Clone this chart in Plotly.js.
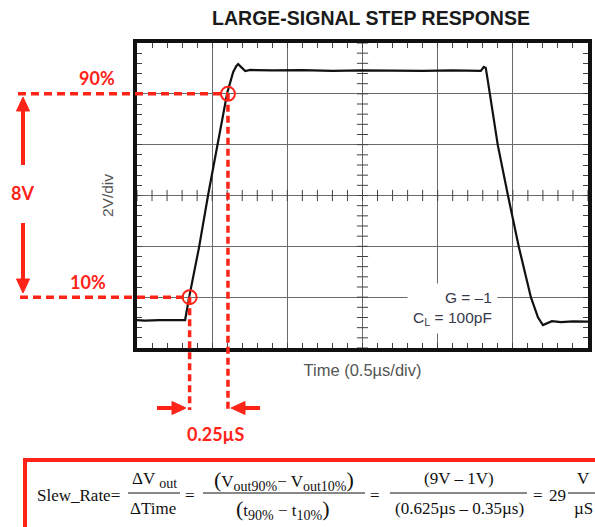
<!DOCTYPE html>
<html><head><meta charset="utf-8">
<script src="https://cdn.plot.ly/plotly-3.0.1.min.js"></script>
<style>html,body{margin:0;padding:0;background:#fff}#chart{width:595px;height:527px}</style>
</head><body><div id="chart"></div>
<script>
// ---- data ----
const timeUs = [0, 0.05, 0.15, 0.25, 0.32, 0.347, 0.413, 0.473, 0.533, 0.600, 0.640, 0.660, 0.673, 0.693, 0.720, 0.753,
  0.9, 1.1, 1.3, 1.5, 1.7, 1.9, 2.1, 2.25, 2.287, 2.307, 2.32, 2.333, 2.347, 2.40, 2.467, 2.54, 2.62, 2.667, 2.70, 2.727, 2.76, 2.82, 2.9, 3.0];
const voutV = [0.1, 0.08, 0.1, 0.09, 0.1, 1.0, 2.97, 5.02, 6.98, 9.03, 9.86, 10.09, 10.17, 10.06, 9.90, 9.94,
  9.92, 9.93, 9.90, 9.92, 9.91, 9.90, 9.92, 9.90, 9.90, 10.06, 10.02, 9.54, 9.03, 6.98, 5.02, 2.97, 1.0, 0.21, -0.10, -0.02, 0.055, 0.016, 0.05, 0.04];
const levelLabels = ['10%', '90%'];
const levelVolts = [1, 9];
const levelTimes = [0.35, 0.605];
const swingLabel = '8V';
const riseLabel = '0.25µS';
const xRange = [0, 3];      // 0.5 µs/div, 6 div
const yRange = [-1, 11];    // 2 V/div, 6 div
const xDiv = 0.5, yDiv = 2;

// ---- layout helpers (pixel -> paper) ----
const L = 137, R = 588, T = 43, B = 348;
const px = x => (x - L) / (R - L);
const py = y => (B - y) / (B - T);
const dx = t => (t - xRange[0]) / (xRange[1] - xRange[0]);
const dy = v => (v - yRange[0]) / (yRange[1] - yRange[0]);

const RED = '#ff2318';
const redFont = {family: 'Lato, "Liberation Sans", sans-serif', size: 18, color: RED, weight: 'bold'};
const serif = {family: '"Liberation Serif", "Times New Roman", serif', size: 17, color: '#111'};
const SUB = s => '<sub><span style="font-size:14px">' + s + '</span></sub>';
const BIG = s => '<span style="font-size:22px">' + s + '</span>';

// center-line minor ticks
const cx = [], cy = [], ex = [], ey = [];
for (let i = 0; i <= 30; i++) { const t = xRange[0] + i * xDiv / 5; cx.push(t); cy.push((yRange[0] + yRange[1]) / 2); }
for (let i = 0; i <= 30; i++) { const v = yRange[0] + i * yDiv / 5; ey.push(v); ex.push((xRange[0] + xRange[1]) / 2); }

const traces = [
  {x: cx, y: cy, mode: 'markers', hoverinfo: 'skip', showlegend: false,
   marker: {symbol: 'line-ns', size: 8, line: {width: 1, color: '#444'}}},
  {x: ex, y: ey, mode: 'markers', hoverinfo: 'skip', showlegend: false,
   marker: {symbol: 'line-ew', size: 8, line: {width: 1, color: '#444'}}},
  {x: timeUs, y: voutV, mode: 'lines', name: 'Vout', showlegend: false,
   line: {color: '#111', width: 2.2}}
];

const shapes = [];
const annotations = [];

// 10% / 90% markers
levelVolts.forEach((v, i) => {
  const t = levelTimes[i];
  shapes.push({type: 'line', xref: 'paper', yref: 'y', x0: px(i === 0 ? 20 : 18), x1: dx(t), y0: v, y1: v,
    line: {color: RED, width: 3.5, dash: '8px,5px'}, layer: 'above'});
  shapes.push({type: 'line', xref: 'x', yref: 'paper', x0: t, x1: t, y0: dy(v), y1: py(410),
    line: {color: RED, width: 3.5, dash: '7px,4px'}, layer: 'above'});
  shapes.push({type: 'circle', xref: 'x', yref: 'y', xsizemode: 'pixel', ysizemode: 'pixel',
    xanchor: t, yanchor: v, x0: -7, x1: 7, y0: -7, y1: 7, line: {color: RED, width: 2}, layer: 'above'});
});
const redTxt = (x, y, text) => annotations.push({xref: 'paper', yref: 'paper', x: px(x), y: py(y), text: text,
  showarrow: false, font: redFont, xanchor: 'center', yanchor: 'middle'});
redTxt(97, 78, levelLabels[1]);
redTxt(88, 282, levelLabels[0]);
redTxt(22, 193, swingLabel);
redTxt(215, 434, riseLabel);

// arrows drawn as shaft + filled head (pixel geometry -> paper)
const arrow = (tx, ty, fx, fy) => {
  const len = Math.hypot(tx - fx, ty - fy), ux = (tx - fx) / len, uy = (ty - fy) / len;
  const hl = 14, hw = 6.5;
  const bx = tx - ux * hl, by = ty - uy * hl;
  shapes.push({type: 'line', xref: 'paper', yref: 'paper', x0: px(fx), y0: py(fy), x1: px(bx + ux), y1: py(by + uy),
    line: {color: RED, width: 4}, layer: 'above'});
  const p1 = [bx - uy * hw, by + ux * hw], p2 = [bx + uy * hw, by - ux * hw];
  shapes.push({type: 'path', xref: 'paper', yref: 'paper', layer: 'above', fillcolor: RED, line: {color: RED, width: 1},
    path: 'M' + px(tx) + ',' + py(ty) + ' L' + px(p1[0]) + ',' + py(p1[1]) + ' L' + px(p2[0]) + ',' + py(p2[1]) + ' Z'});
};
arrow(23, 97, 23, 165);
arrow(23, 293, 23, 223);
arrow(186, 408, 157, 408);
arrow(231, 408, 260, 408);

// G / CL label
annotations.push({xref: 'paper', yref: 'paper', x: px(498), y: py(308), xanchor: 'right', yanchor: 'middle', align: 'right',
  text: 'G = –1<br>C<sub>L</sub> = 100pF', showarrow: false, bgcolor: '#fff', borderpad: 5,
  font: {family: '"Liberation Sans", Arial, sans-serif', size: 15.5, color: '#3a3a4c'}});

// formula box
shapes.push({type: 'rect', xref: 'paper', yref: 'paper', x0: px(25), x1: px(610), y0: py(460), y1: py(545),
  line: {color: RED, width: 4}, layer: 'above'});
const fbar = (a, b, y) => shapes.push({type: 'line', xref: 'paper', yref: 'paper', x0: px(a), x1: px(b), y0: py(y), y1: py(y),
  line: {color: '#111', width: 1}, layer: 'above'});
fbar(128, 180, 493); fbar(203, 365, 493); fbar(390, 527, 493); fbar(568, 597, 493);
const ftxt = (x, y, text, anchor) => annotations.push({xref: 'paper', yref: 'paper', x: px(x), y: py(y), text: text,
  showarrow: false, font: serif, xanchor: anchor || 'center', yanchor: 'middle'});
ftxt(35, 495, 'Slew_Rate=', 'left');
ftxt(154, 480, 'ΔV ' + SUB('out'));
ftxt(153, 508, 'ΔTime');
ftxt(190, 495, '=');
ftxt(284, 480, BIG('(') + 'V' + SUB('out90%') + '− V' + SUB('out10%') + BIG(')'));
ftxt(283, 509, BIG('(') + 't' + SUB('90%') + ' − t' + SUB('10%') + BIG(')'));
ftxt(375, 495, '=');
ftxt(459, 478, '(9V – 1V)');
ftxt(459, 508, '(0.625µs – 0.35µs)');
ftxt(538, 495, '=');
ftxt(557, 495, '29');
ftxt(583, 478, 'V');
ftxt(583, 508, 'µS');

const layout = {
  width: 595, height: 527,
  margin: {l: L, r: 595 - R, t: T, b: 527 - B, pad: 0},
  paper_bgcolor: '#fff', plot_bgcolor: '#fff',
  showlegend: false,
  title: {text: '<b>LARGE-SIGNAL STEP RESPONSE</b>', xref: 'paper', x: px(371), xanchor: 'center',
    yref: 'container', y: 1 - 18 / 527, yanchor: 'middle',
    font: {family: '"Liberation Sans", Arial, sans-serif', size: 19.5, color: '#1a1a1a'}},
  xaxis: {range: xRange, dtick: xDiv, tick0: 0, showgrid: true, gridcolor: '#6a6a6a', gridwidth: 1.2, zeroline: false,
    showline: true, linecolor: '#111', linewidth: 4, mirror: 'ticks', ticks: 'inside', ticklen: 5, tickcolor: '#444',
    showticklabels: false, fixedrange: true,
    minor: {dtick: xDiv / 5, tick0: 0, ticks: 'inside', ticklen: 5, tickcolor: '#444', tickwidth: 1, showgrid: false},
    title: {text: 'Time (0.5µs/div)', standoff: 14, font: {family: '"Liberation Sans", Arial, sans-serif', size: 16.5, color: '#555'}}},
  yaxis: {range: yRange, dtick: yDiv, tick0: -1, showgrid: true, gridcolor: '#6a6a6a', gridwidth: 1.2, zeroline: false,
    showline: true, linecolor: '#111', linewidth: 4, mirror: 'ticks', ticks: 'inside', ticklen: 5, tickcolor: '#444',
    showticklabels: false, fixedrange: true,
    minor: {dtick: yDiv / 5, tick0: -1, ticks: 'inside', ticklen: 5, tickcolor: '#444', tickwidth: 1, showgrid: false},
    title: {text: '2V/div', standoff: 17, font: {family: '"Liberation Sans", Arial, sans-serif', size: 15.5, color: '#555'}}},
  shapes: shapes,
  annotations: annotations
};

Plotly.newPlot('chart', traces, layout, {displayModeBar: false, staticPlot: true});
</script>
</body></html>
